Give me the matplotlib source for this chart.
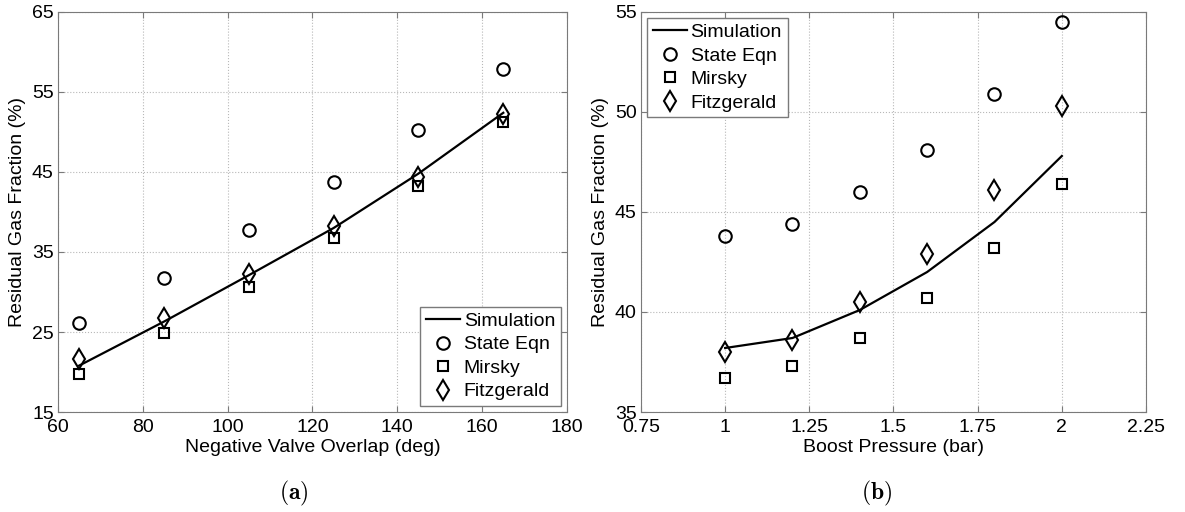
import matplotlib.pyplot as plt

plt.rcParams['font.family'] = ['Liberation Sans', 'DejaVu Sans']
plt.rcParams['mathtext.fontset'] = 'cm'

# (a) negative valve overlap
nvo = [65, 85, 105, 125, 145, 165]
sim_a = [20.8, 26.3, 32.1, 38.0, 44.8, 52.4]
state_a = [26.1, 31.8, 37.7, 43.8, 50.2, 57.9]
mirsky_a = [19.8, 24.9, 30.6, 36.7, 43.3, 51.2]
fitz_a = [21.6, 26.8, 32.3, 38.2, 44.4, 52.2]

# (b) boost pressure
boost = [1.0, 1.2, 1.4, 1.6, 1.8, 2.0]
sim_b = [38.2, 38.7, 40.1, 42.0, 44.5, 47.8]
state_b = [43.8, 44.4, 46.0, 48.1, 50.9, 54.5]
mirsky_b = [36.7, 37.3, 38.7, 40.7, 43.2, 46.4]
fitz_b = [38.0, 38.6, 40.5, 42.9, 46.1, 50.3]

fig = plt.figure(figsize=(11.85, 5.12), dpi=100)
ax1 = fig.add_axes([0.0489, 0.1953, 0.4295, 0.7813])
ax2 = fig.add_axes([0.5409, 0.1953, 0.4262, 0.7813])

FS = 14
EDGE = '#7a7a7a'


def draw(ax, x, sim, state, mirsky, fitz):
    ax.plot(x, sim, '-', color='black', lw=1.6, label='Simulation')
    ax.plot(x, state, 'o', mfc='none', mec='black', ms=9, mew=1.5, label='State Eqn')
    ax.plot(x, mirsky, 's', mfc='none', mec='black', ms=7, mew=1.5, label='Mirsky')
    ax.plot(x, fitz, 'd', mfc='none', mec='black', ms=10, mew=1.5, label='Fitzgerald')
    ax.grid(True, linestyle=':', color='#b8b8b8', lw=0.8)
    ax.tick_params(direction='in', top=True, right=True, labelsize=FS,
                   length=4, color=EDGE, width=0.8)
    ax.tick_params(axis='x', pad=5)
    ax.tick_params(axis='y', pad=3)
    ax.set_ylabel('Residual Gas Fraction (%)', fontsize=FS, labelpad=4)
    for s in ax.spines.values():
        s.set_color(EDGE)


def legend(ax, loc):
    ax.legend(loc=loc, fontsize=FS, fancybox=False, edgecolor=EDGE,
              framealpha=1, borderaxespad=0.3, handletextpad=0.2, borderpad=0.3,
              labelspacing=0.3, handlelength=1.75)


draw(ax1, nvo, sim_a, state_a, mirsky_a, fitz_a)
ax1.set_xlim(60, 180)
ax1.set_ylim(15, 65)
ax1.set_xticks([60, 80, 100, 120, 140, 160, 180])
ax1.set_yticks([15, 25, 35, 45, 55, 65])
ax1.set_xlabel('Negative Valve Overlap (deg)', fontsize=FS, labelpad=2)
legend(ax1, 'lower right')

draw(ax2, boost, sim_b, state_b, mirsky_b, fitz_b)
ax2.set_xlim(0.75, 2.25)
ax2.set_ylim(35, 55)
ax2.set_xticks([0.75, 1, 1.25, 1.5, 1.75, 2, 2.25])
ax2.set_xticklabels(['0.75', '1', '1.25', '1.5', '1.75', '2', '2.25'])
ax2.set_yticks([35, 40, 45, 50, 55])
ax2.set_xlabel('Boost Pressure (bar)', fontsize=FS, labelpad=2)
legend(ax2, 'upper left')

fig.text(0.248, 0.037, r'$\mathbf{(a)}$', fontsize=17, ha='center', va='center')
fig.text(0.740, 0.037, r'$\mathbf{(b)}$', fontsize=17, ha='center', va='center')

fig.savefig('out.png', dpi=100)
